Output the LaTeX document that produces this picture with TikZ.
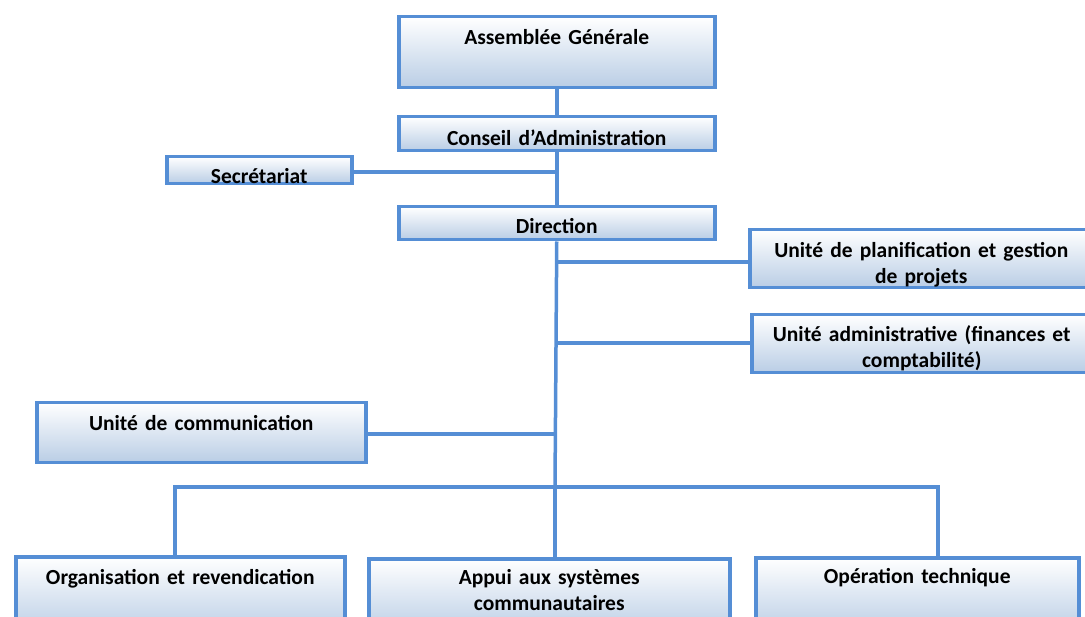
\documentclass[tikz,border=0pt]{standalone}
\usepackage{fontspec}
\setmainfont{Carlito}
\definecolor{orgline}{HTML}{558ED5}
\definecolor{orgfill}{HTML}{B9CDE5}

\begin{document}
\begin{tikzpicture}
[x=1pt,y=-1pt,%
  unit/.style n args={3}{draw=orgline,line width=3.5pt,top color=white,bottom color=orgfill,%
    anchor=north west,inner sep=0pt,text width=#1,align=center,text height=#2,text depth=#3,%
    font=\bfseries\fontsize{21.5}{25.5}\selectfont},%
  link/.style={draw=orgline,line width=3.5pt}]
\useasboundingbox (0,0) rectangle (1085,617);
% boxes
\node[unit={316pt}{28pt}{43pt}] (ag) at (397,15) {Assemblée Générale};
\node[unit={316pt}{29pt}{5pt}] (ca) at (397,115) {Conseil d’Administration};
\node[unit={185pt}{27pt}{0pt}] (sec) at (165,155) {Secrétariat};
\node[unit={316pt}{27pt}{6pt}] (dir) at (397,205) {Direction};
\node[unit={343pt}{28pt}{30pt}] (plan) at (748,228) {Unité de planification et gestion\\de projets};
\node[unit={340pt}{27pt}{31pt}] (adm) at (750,313) {Unité administrative (finances et\\comptabilité)};
\node[unit={329pt}{28pt}{32pt}] (com) at (35,401) {Unité de communication};
\node[unit={329pt}{28pt}{50pt}] (org) at (14,555) {Organisation et revendication};
\node[unit={361pt}{26pt}{50pt}] (app) at (367,557) {Appui aux systèmes\\communautaires};
\node[unit={323pt}{26pt}{50pt}] (op) at (754,556) {Opération technique};
% joints on the trunk
\coordinate (jsec) at (555,172);
\coordinate (jplan) at (555,262);
\coordinate (jadm) at (555,343);
\coordinate (jcom) at (555,434);
\coordinate (jbus) at (555,487);
\coordinate (jorg) at (175,487);
\coordinate (jop) at (938,487);
% links
\draw[link] (ag.south) -- (ca.north);
\draw[link] (ca.south) -- (dir.north);
\draw[link] (jsec -| sec.east) -- (jsec);
\draw[link] (dir.south) -- (jbus);
\draw[link] (jplan) -- (jplan -| plan.west);
\draw[link] (jadm) -- (jadm -| adm.west);
\draw[link] (jcom -| com.east) -- (jcom);
\draw[link] (jorg |- org.north) -- (jorg) -- (jop) -- (jop |- op.north);
\draw[link] (jbus) -- (jbus |- app.north);
\end{tikzpicture}
\end{document}
